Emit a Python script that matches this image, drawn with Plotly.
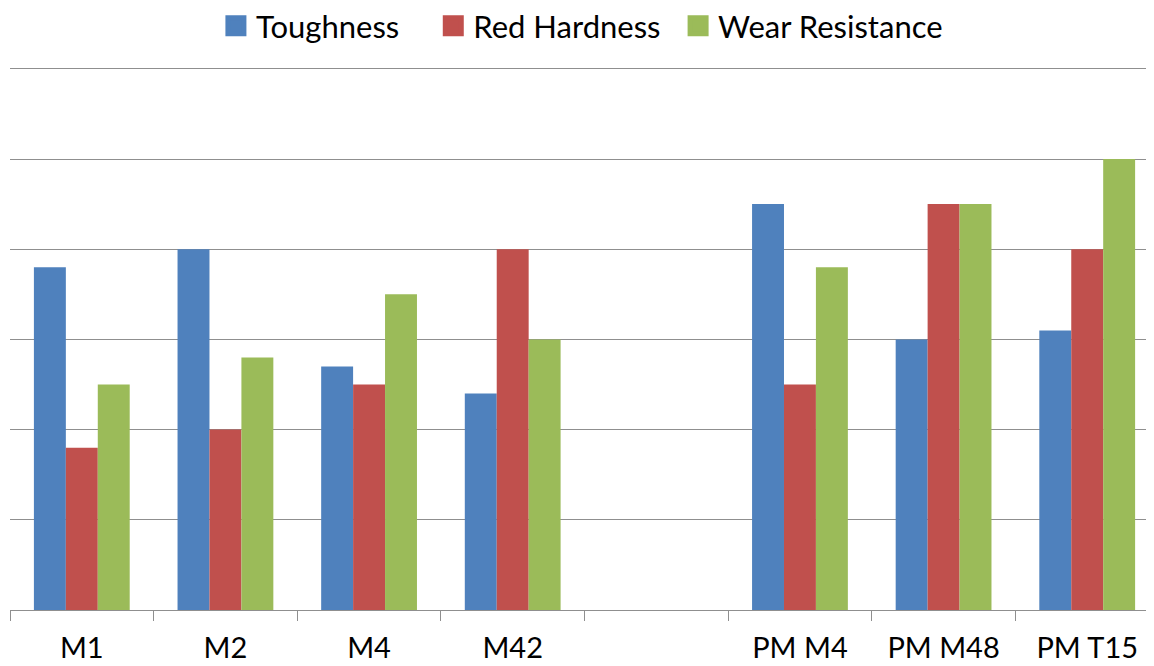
import plotly.graph_objects as go

categories = ["M1", "M2", "M4", "M42", " ", "PM M4", "PM M48", "PM T15"]
toughness = [3.8, 4.0, 2.7, 2.4, None, 4.5, 3.0, 3.1]
red_hardness = [1.8, 2.0, 2.5, 4.0, None, 2.5, 4.5, 4.0]
wear_resistance = [2.5, 2.8, 3.5, 3.0, None, 3.8, 4.5, 5.0]

series = [("Toughness", toughness, "#4F81BD", "legend", 0.180),
          ("Red Hardness", red_hardness, "#C0504D", "legend2", 0.370),
          ("Wear Resistance", wear_resistance, "#9BBB59", "legend3", 0.584)]
FONT = "Lato, 'Open Sans', sans-serif"

fig = go.Figure()
for name, vals, col, lg, lx in series:
    fig.add_trace(go.Bar(x=categories, y=vals, name=name, legendgroup=name,
                         showlegend=False,
                         marker=dict(color=col, line=dict(width=0))))
for name, vals, col, lg, lx in series:
    fig.add_trace(go.Scatter(x=[None], y=[None], name=name, legendgroup=name,
                             legend=lg, mode="markers", showlegend=True,
                             marker=dict(symbol="square", size=16, color=col,
                                         line=dict(color=col, width=5))))

legend_style = dict(orientation="h", xanchor="left", y=1.0755, yanchor="middle",
                    font=dict(family=FONT, size=31, color="black"),
                    itemwidth=30, bgcolor="rgba(0,0,0,0)",
                    itemclick=False, itemdoubleclick=False)

# page body has an 8px offset; figure is sized to the visible area
fig.update_layout(
    width=1146, height=658,
    margin=dict(l=2, r=0, t=59, b=56, autoexpand=False),
    paper_bgcolor="white", plot_bgcolor="white",
    barmode="group", bargap=0.333, bargroupgap=0,
    font=dict(family=FONT, size=29, color="black"),
    showlegend=True,
    legend=dict(x=series[0][4], **legend_style),
    legend2=dict(x=series[1][4], **legend_style),
    legend3=dict(x=series[2][4], **legend_style),
    xaxis=dict(type="category", range=[-0.5, 7.465], tickson="boundaries",
               ticks="outside", ticklen=10, tickcolor="#8f8f8f", tickwidth=1,
               showline=True, linecolor="#8f8f8f", linewidth=1, automargin=False,
               ticklabelstandoff=12,
               showgrid=False, tickfont=dict(family=FONT, size=29, color="black")),
    yaxis=dict(range=[0, 6.02], dtick=1, showgrid=True, gridcolor="#8f8f8f", gridwidth=1,
               showticklabels=False, zeroline=False, showline=False, ticks="",
               automargin=False),
)

fig.write_html("out.html")
